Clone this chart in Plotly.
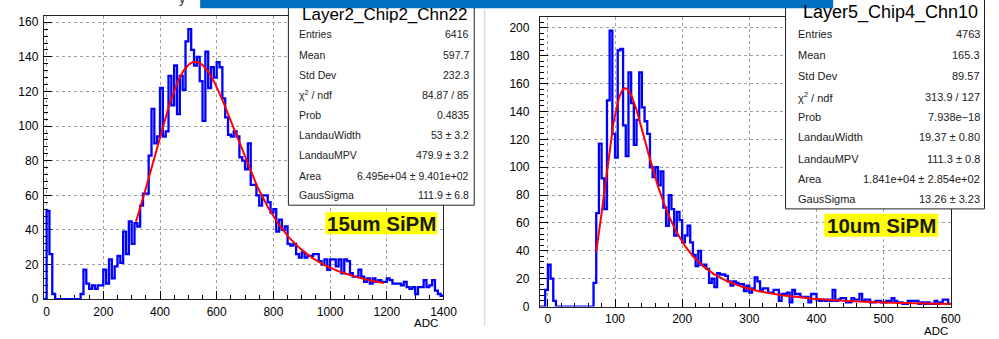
import numpy as np
import plotly.graph_objects as go

# ---------------- Layer2_Chip2_Chn22 (15um SiPM): 10-ADC bins from -10 to 1400 ----------------
h1_lo, h1_hi, h1_bin = -10, 1400, 10
h1_counts = [
    0, 51, 26, 3, 0, 0, 0, 0, 0, 0, 0, 0, 0, 3, 17, 9, 6, 8, 6, 8,
    8, 17, 9, 23, 12, 19, 25, 21, 39, 26, 45, 32, 44, 42, 54, 61, 61, 83, 110, 90,
    94, 122, 94, 97, 129, 112, 135, 107, 129, 121, 149, 156, 144, 135, 140, 126, 103, 143, 122, 134,
    128, 137, 134, 116, 105, 95, 94, 97, 94, 82, 80, 75, 90, 66, 66, 60, 54, 60, 60, 56,
    50, 52, 39, 46, 40, 42, 32, 31, 32, 26, 24, 27, 24, 25, 25, 26, 26, 22, 20, 23,
    17, 23, 23, 19, 23, 15, 23, 22, 15, 13, 13, 17, 13, 10, 12, 9, 12, 10, 11, 10,
    10, 12, 11, 9, 9, 9, 8, 10, 7, 6, 7, 3, 7, 7, 11, 7, 8, 11, 5, 3,
    2,
]
h1_entries, h1_mean, h1_std = 6416, 597.7, 232.3
h1_chi2, h1_ndf, h1_prob = 84.87, 85, 0.4835
h1_lwidth, h1_lwidth_err = 53.0, 3.2
h1_mpv, h1_mpv_err = 479.9, 3.2
h1_area, h1_area_err = 6.495e4, 9.401e2
h1_gsigma, h1_gsigma_err = 111.9, 6.8
h1_fit_range = (315, 1190)
h1_name = "Layer2_Chip2_Chn22"
h1_tag = "15um SiPM"

# ---------------- Layer5_Chip4_Chn10 (10um SiPM): 4-ADC bins from -12 to 600 ----------------
h2_lo, h2_hi, h2_bin = -12, 600, 4
h2_counts = [
    0, 0, 12, 30, 20, 4, 0, 0, 0, 0, 0, 0, 0, 0, 0, 0, 0, 0, 0, 0,
    17, 67, 117, 92, 70, 148, 198, 124, 107, 184, 185, 130, 108, 168, 146, 116, 134, 168, 143, 133,
    124, 100, 93, 100, 87, 97, 71, 58, 80, 70, 51, 68, 62, 46, 51, 58, 46, 37, 29, 40,
    30, 30, 27, 17, 20, 14, 24, 23, 23, 22, 18, 15, 18, 17, 16, 16, 11, 15, 10, 13,
    21, 18, 12, 13, 13, 10, 10, 12, 12, 4, 9, 9, 10, 3, 12, 9, 9, 7, 7, 7,
    3, 9, 9, 5, 4, 5, 4, 5, 4, 12, 4, 5, 6, 6, 3, 3, 6, 5, 5, 9,
    4, 5, 5, 3, 3, 4, 4, 3, 3, 4, 4, 6, 4, 3, 3, 2, 2, 4, 4, 4,
    4, 2, 3, 2, 3, 2, 2, 4, 2, 3, 5, 5, 2,
]
h2_entries, h2_mean, h2_std = 4763, 165.3, 89.57
h2_chi2, h2_ndf, h2_prob = 313.9, 127, 7.938e-18
h2_lwidth, h2_lwidth_err = 19.37, 0.80
h2_mpv, h2_mpv_err = 111.3, 0.8
h2_area, h2_area_err = 1.841e4, 2.854e2
h2_gsigma, h2_gsigma_err = 13.26, 3.23
h2_fit_range = (72, 600)
h2_name = "Layer5_Chip4_Chn10"
h2_tag = "10um SiPM"

stat_labels = ["Entries", "Mean", "Std Dev", "χ<sup>2</sup> / ndf", "Prob",
               "LandauWidth", "LandauMPV", "Area", "GausSigma"]

FONT = "Liberation Sans, Arial, Helvetica, sans-serif"
W, H = 999, 339
MPSHIFT = -0.22278298


def fx(x):
    return x / W


def fy(y):
    return 1 - y / H


# ---------------- Landau (x) Gaussian fit function ----------------
def landau_std(lam):
    """Standard Landau density via the inverse Laplace integral on a saddle-point contour."""
    t = np.linspace(0.0, 50.0, 8001)
    out = np.zeros(lam.shape, dtype=float)
    for i, l in enumerate(lam):
        if l < -4.5:
            continue
        c = float(np.clip(np.exp(-1.0 - l), 0.02, 40.0))
        s = c + 1j * t
        out[i] = np.trapezoid(np.exp(l * s + s * np.log(s)).real, t) / np.pi
    return out


def langaus(x, width, mpv, area, gsigma, step):
    mpc = mpv - MPSHIFT * width
    xp = np.arange(x.min() - 5 * gsigma, x.max() + 5 * gsigma + step, step)
    lan = landau_std((xp - mpc) / width) / width
    kern = np.exp(-0.5 * ((x[:, None] - xp[None, :]) / gsigma) ** 2) / (np.sqrt(2 * np.pi) * gsigma)
    return area * (kern * lan[None, :]).sum(axis=1) * step


xf1 = np.linspace(h1_fit_range[0], h1_fit_range[1], 300)
yf1 = langaus(xf1, h1_lwidth, h1_mpv, h1_area, h1_gsigma, 2.0)
xf2 = np.linspace(h2_fit_range[0], h2_fit_range[1], 400)
yf2 = langaus(xf2, h2_lwidth, h2_mpv, h2_area, h2_gsigma, 0.5)

# ---------------- figure ----------------
fig = go.Figure()


def add_hist(lo, hi, bw, counts, xa, ya):
    edges = np.arange(lo, hi + bw / 2, bw)
    yv = np.append(np.asarray(counts, float), counts[-1])
    fig.add_trace(go.Scatter(x=edges, y=yv, mode="lines", xaxis=xa, yaxis=ya,
                             line=dict(color="#0000ff", width=2.3, shape="hv"),
                             cliponaxis=False, hoverinfo="skip", showlegend=False))


add_hist(h1_lo, h1_hi, h1_bin, h1_counts, "x", "y")
fig.add_trace(go.Scatter(x=xf1, y=yf1, mode="lines", xaxis="x", yaxis="y",
                         line=dict(color="#ff0000", width=2), hoverinfo="skip", showlegend=False))
add_hist(h2_lo, h2_hi, h2_bin, h2_counts, "x2", "y2")
fig.add_trace(go.Scatter(x=xf2, y=yf2, mode="lines", xaxis="x2", yaxis="y2",
                         line=dict(color="#ff0000", width=2), hoverinfo="skip", showlegend=False))


def axis_style(domain, rng, dtick, minor, anchor, standoff):
    return dict(domain=domain, range=rng, anchor=anchor, tick0=0, dtick=dtick,
                ticks="inside", ticklen=8, tickwidth=1, tickcolor="black",
                minor=dict(tick0=0, dtick=minor, ticks="inside", ticklen=4,
                           tickcolor="black", showgrid=False),
                showgrid=True, gridcolor="#a0a0a0", griddash="dot", gridwidth=1,
                showline=True, linecolor="#222222", linewidth=1, mirror=True,
                zeroline=False, layer="below traces", ticklabelstandoff=standoff,
                tickfont=dict(family=FONT, size=12, color="black"), fixedrange=True)


h1_ymax = 1.05 * max(h1_counts)
h2_ymax = 1.05 * max(h2_counts)

fig.update_layout(
    width=W, height=H, margin=dict(l=0, r=0, t=0, b=0),
    paper_bgcolor="white", plot_bgcolor="white", showlegend=False,
    font=dict(family=FONT, size=12, color="black"),
    xaxis=axis_style([fx(44.4), fx(449.8)], [h1_lo, h1_hi], 200, 50, "y", 1),
    yaxis=axis_style([fy(305.5), fy(16)], [0, h1_ymax], 20, 4, "x", 2),
    xaxis2=axis_style([fx(547.5), fx(964.3)], [h2_lo, h2_hi], 100, 20, "y2", 1),
    yaxis2=axis_style([fy(313), fy(17.3)], [0, h2_ymax], 20, 4, "x2", 7),
)

shapes = []
annotations = []


def rect(x0, y0, x1, y1, fill, line_color=None, lw=0):
    shapes.append(dict(type="rect", xref="paper", yref="paper", layer="above",
                       x0=fx(x0), x1=fx(x1), y0=fy(y1), y1=fy(y0), fillcolor=fill,
                       line=dict(color=line_color or fill, width=lw)))


def text(x, y, s, size, xanchor="center", color="#1a1a1a", yanchor="middle"):
    annotations.append(dict(xref="paper", yref="paper", x=fx(x), y=fy(y), text=s,
                            showarrow=False, xanchor=xanchor, yanchor=yanchor,
                            font=dict(family=FONT, size=size, color=color)))


def stat_values(entries, mean, std, chi2, ndf, prob, prob_fmt, lw, lwe, lw_fmt,
                mpv, mpve, mpv_fmt, area, areae, gs, gse, gs_fmt):
    return [
        f"{entries}", f"{mean:.4g}", f"{std:.4g}", f"{chi2:.4g} / {ndf}",
        format(prob, prob_fmt).replace("-", "−"),
        f"{format(lw, lw_fmt)} ± {format(lwe, lw_fmt)}",
        f"{format(mpv, mpv_fmt)} ± {format(mpve, mpv_fmt)}",
        f"{area:.3e} ± {areae:.3e}",
        f"{format(gs, gs_fmt)} ± {format(gse, gs_fmt)}",
    ]


h1_vals = stat_values(h1_entries, h1_mean, h1_std, h1_chi2, h1_ndf, h1_prob, ".4f",
                      h1_lwidth, h1_lwidth_err, "g", h1_mpv, h1_mpv_err, ".1f",
                      h1_area, h1_area_err, h1_gsigma, h1_gsigma_err, ".1f")
h2_vals = stat_values(h2_entries, h2_mean, h2_std, h2_chi2, h2_ndf, h2_prob, ".3e",
                      h2_lwidth, h2_lwidth_err, ".2f", h2_mpv, h2_mpv_err, ".1f",
                      h2_area, h2_area_err, h2_gsigma, h2_gsigma_err, ".2f")

# stats boxes
rect(292.5, -2, 481, 209.5, "white", "#222222", 1)
rect(796.7, -2, 998.5, 213.3, "white", "#222222", 1)
text(389.5, 15, h1_name, 17, color="black")
text(903.5, 12.5, h2_name, 18, color="black")
rows1 = [34.3, 55.7, 76.7, 96.7, 117.3, 137.7, 158.3, 179.3, 199.3]
rows2 = [35, 56, 77.7, 98.7, 119.3, 140.3, 162.3, 182.7, 203.3]
for lab, val, yy in zip(stat_labels, h1_vals, rows1):
    text(301.7, yy, lab, 10.5, xanchor="left", color="#222222")
    text(477.5, yy, val, 10.5, xanchor="right", color="#222222")
for lab, val, yy in zip(stat_labels, h2_vals, rows2):
    text(807, yy, lab, 11, xanchor="left", color="#222222")
    text(995.5, yy, val, 11, xanchor="right", color="#222222")

# sensor tags
rect(330, 216.7, 443.3, 239.3, "#ffff00")
text(386.7, 228.3, f"<b>{h1_tag}</b>", 20.5, color="#1a1a1a")
rect(836, 218.2, 951.5, 241.7, "#ffff00")
text(893.7, 230.2, f"<b>{h2_tag}</b>", 20.5, color="#1a1a1a")

# axis titles, sitting below the tick labels at the right end of each axis
text(446, 337.5, "ADC", 11.5, xanchor="right", color="black", yanchor="bottom")
text(963, 346.5, "ADC", 11.5, xanchor="right", color="black", yanchor="bottom")

# slide decorations: header bar, panel divider and clipped heading glyph
rect(203, -1, 845, 8.3, "#0070c0")
shapes.append(dict(type="line", xref="paper", yref="paper", layer="above",
                   x0=fx(491.5), x1=fx(491.5), y0=fy(332), y1=fy(10),
                   line=dict(color="#dcdcdc", width=1.5)))
text(185, -1.5, "y", 13, color="#333333")

fig.update_layout(shapes=shapes, annotations=annotations)
fig.write_html("out.html")
